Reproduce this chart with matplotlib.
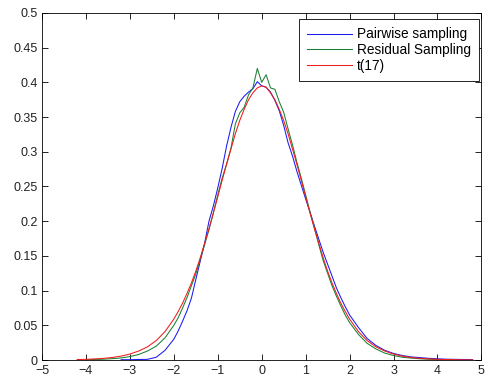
import matplotlib
matplotlib.use('Agg')
import matplotlib.pyplot as plt
import matplotlib.ticker as mt
import numpy as np

plt.rcParams['font.family'] = ['Liberation Sans', 'DejaVu Sans']
plt.rcParams['font.size'] = 9

# grid (coarse in the tails, fine in the middle)
x = [-4.2, -4.0, -3.8, -3.6, -3.4, -3.2, -3.0, -2.8, -2.6, -2.4, -2.2,
     -2.0, -1.9, -1.8, -1.7, -1.6, -1.5, -1.4, -1.3, -1.2, -1.1,
     -1.0, -0.9, -0.8, -0.7, -0.6, -0.5, -0.4, -0.3, -0.2, -0.1,
     0.0, 0.1, 0.2, 0.3, 0.4, 0.5, 0.6, 0.7, 0.8, 0.9,
     1.0, 1.1, 1.2, 1.3, 1.4, 1.5, 1.6, 1.7, 1.8, 1.9,
     2.0, 2.2, 2.4, 2.6, 2.8, 3.0, 3.2, 3.4, 3.6, 3.8,
     4.0, 4.2, 4.4, 4.6, 4.8]

pairwise = [None, None, None, None, None, 0.0005, 0.0005, 0.0008, 0.001, 0.004, 0.014,
            0.030, 0.042, 0.056, 0.071, 0.089, 0.116, 0.142, 0.168, 0.200, 0.222,
            0.248, 0.276, 0.308, 0.335, 0.358, 0.372, 0.380, 0.386, 0.391, 0.401,
            0.395, 0.393, 0.386, 0.374, 0.359, 0.338, 0.313, 0.294, 0.272, 0.252,
            0.232, 0.213, 0.193, 0.174, 0.155, 0.138, 0.121, 0.104, 0.090, 0.077,
            0.065, 0.047, 0.031, 0.021, 0.014, 0.0095, 0.0065, 0.0045, 0.0035, 0.0025,
            0.0018, 0.0012, 0.001, 0.0008, 0.0006]

residual = [None, 0.0005, 0.0008, 0.0012, 0.002, 0.003, 0.005, 0.008, 0.013, 0.020, 0.032,
            0.050, 0.061, 0.075, 0.090, 0.107, 0.124, 0.145, 0.166, 0.188, 0.212,
            0.238, 0.262, 0.282, 0.305, 0.340, 0.356, 0.364, 0.382, 0.392, 0.420,
            0.400, 0.411, 0.392, 0.390, 0.372, 0.357, 0.333, 0.310, 0.285, 0.262,
            0.238, 0.213, 0.190, 0.166, 0.143, 0.125, 0.107, 0.092, 0.078, 0.065,
            0.054, 0.037, 0.024, 0.016, 0.010, 0.0065, 0.004, 0.0028, 0.0018, 0.0012,
            0.0008, 0.0005, 0.0003, None, None]

t17 = [0.0007, 0.0010, 0.0016, 0.0024, 0.0037, 0.0056, 0.0086, 0.013, 0.019, 0.028, 0.041,
       0.059, 0.070, 0.082, 0.096, 0.111, 0.128, 0.147, 0.168, 0.189, 0.212,
       0.235, 0.259, 0.282, 0.304, 0.326, 0.345, 0.361, 0.375, 0.385, 0.392,
       0.395, 0.393, 0.385, 0.375, 0.361, 0.345, 0.326, 0.304, 0.282, 0.259,
       0.235, 0.212, 0.189, 0.168, 0.147, 0.128, 0.111, 0.096, 0.082, 0.070,
       0.059, 0.041, 0.028, 0.019, 0.013, 0.0086, 0.0056, 0.0037, 0.0024, 0.0016,
       0.0010, 0.0007, 0.0005, 0.0003, 0.0002]

labels = ['Pairwise sampling', 'Residual Sampling', 't(17)']
colors = [(0.1, 0.1, 0.95), (0.1, 0.5, 0.2), (0.95, 0.1, 0.1)]


def arr(v):
    return np.array([np.nan if a is None else a for a in v], dtype=float)


fig = plt.figure(figsize=(4.91, 3.81), dpi=100)
ax = fig.add_axes([0.0855, 0.055, 0.895, 0.911])

for ys, lab, c in zip([pairwise, residual, t17], labels, colors):
    ax.plot(x, arr(ys), color=c, lw=0.75, label=lab)

ax.set_xlim(-5, 5)
ax.set_ylim(0, 0.5)
ax.set_xticks(np.arange(-5, 6, 1))
ax.set_yticks(np.arange(0, 0.501, 0.05))
ax.yaxis.set_major_formatter(mt.FuncFormatter(lambda v, p: '%g' % round(v, 2)))
ax.tick_params(direction='in', length=4, width=0.6, top=True, right=True,
               colors='black', labelcolor='#222222')
ax.tick_params(axis='x', pad=3.5)
ax.tick_params(axis='y', pad=3)
for s in ax.spines.values():
    s.set_linewidth(0.6)
    s.set_color('black')

leg = ax.legend(loc='upper right', bbox_to_anchor=(0.994, 0.982), borderaxespad=0,
                fancybox=False, framealpha=1, edgecolor='black', handlelength=3.3,
                labelspacing=0.12, borderpad=0.6, handletextpad=0.35, fontsize=9.8)
leg.get_frame().set_linewidth(0.6)

plt.savefig('out.png', dpi=100)
